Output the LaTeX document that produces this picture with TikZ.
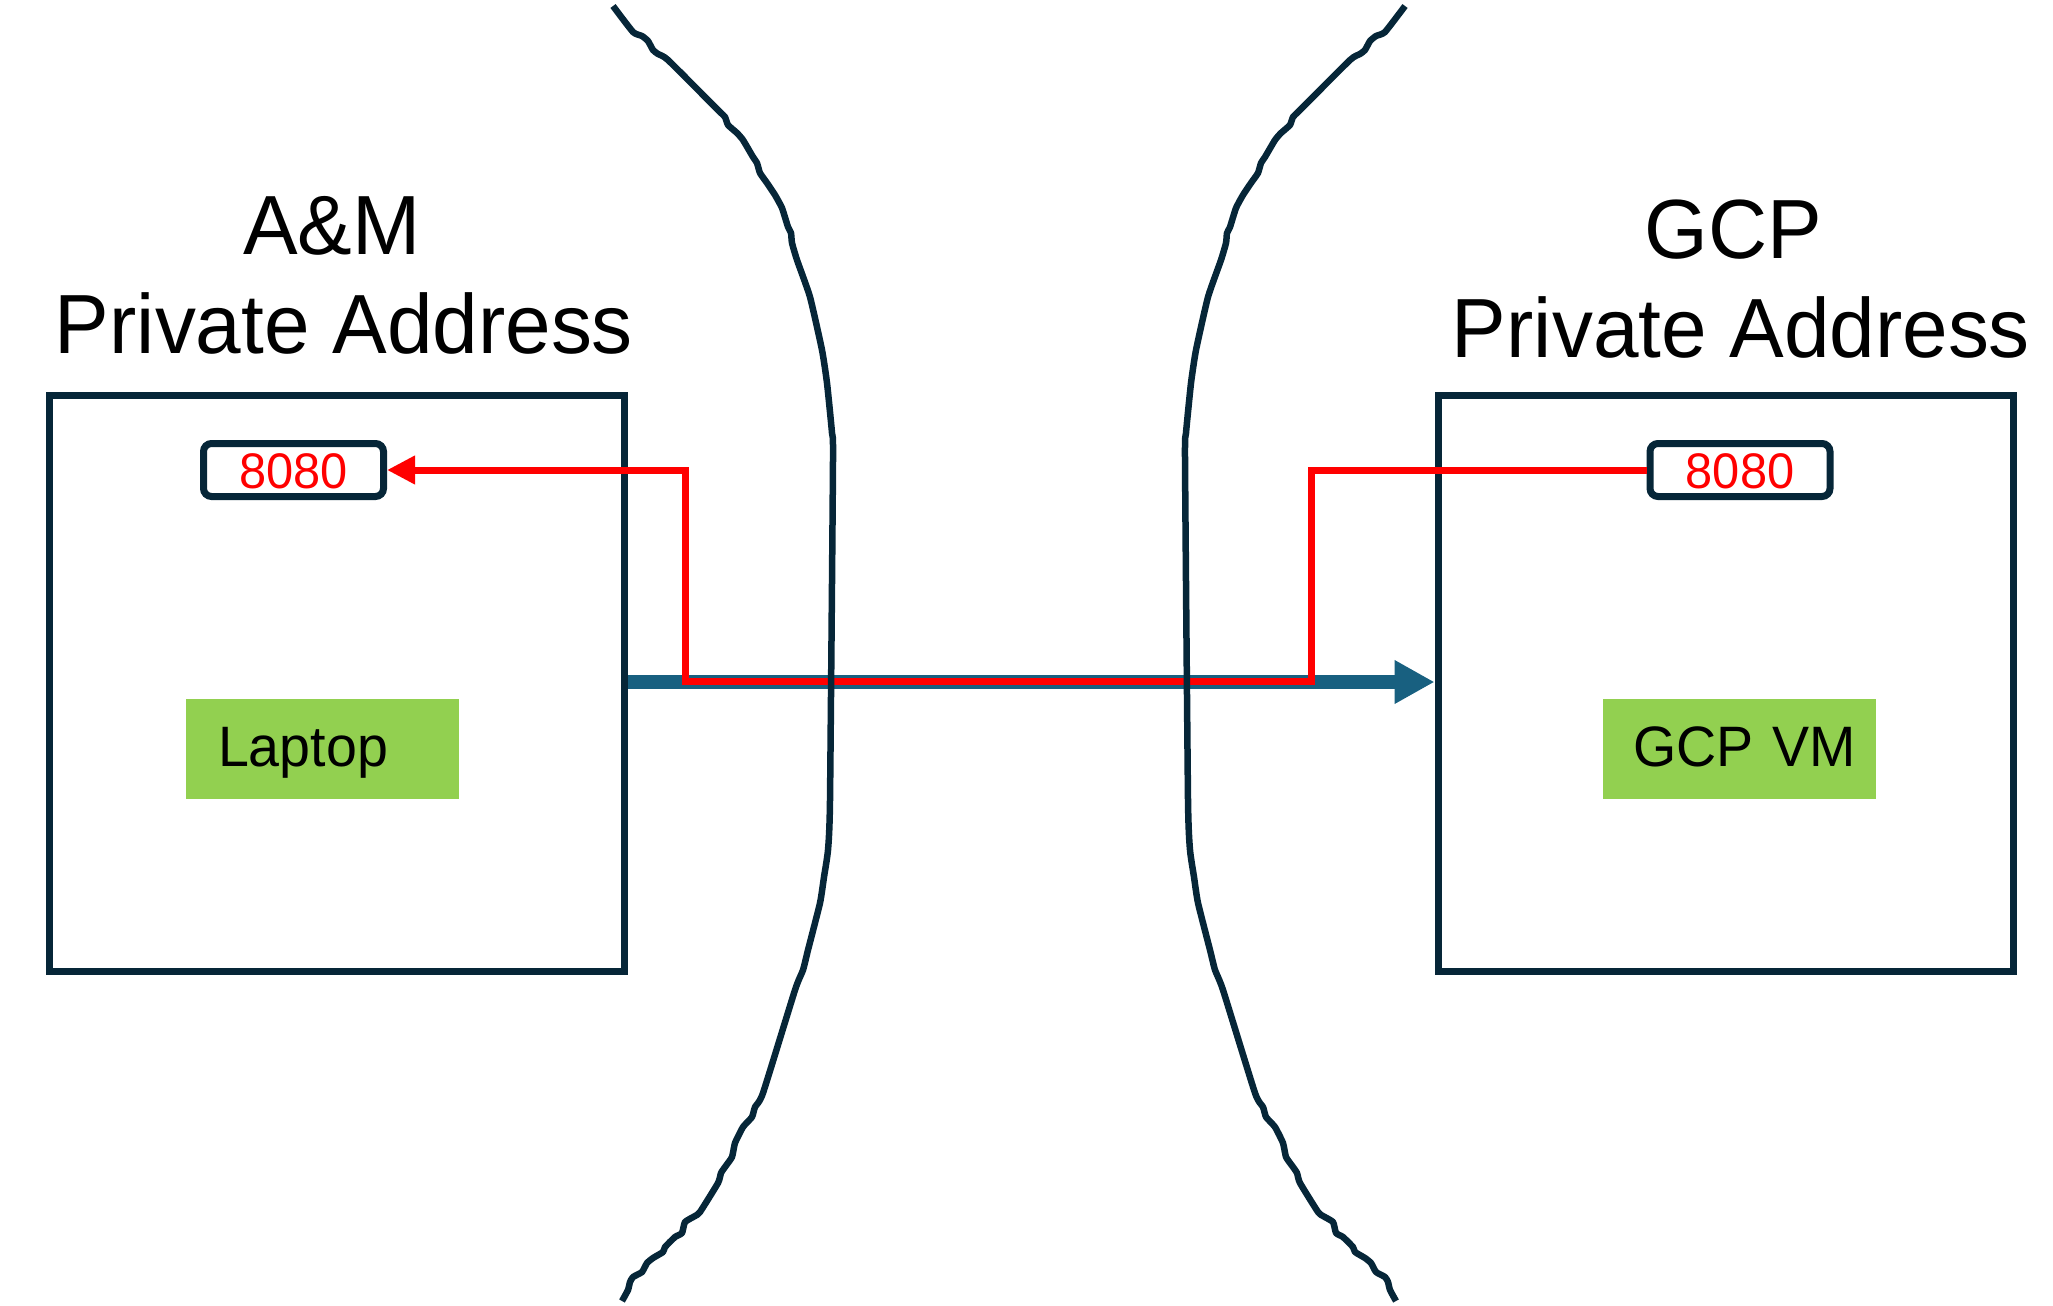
\documentclass[tikz,border=0pt]{standalone}
\usepackage{fontspec}
\setmainfont{Liberation Sans}[FakeStretch=0.975]
\usetikzlibrary{arrows.meta}
\definecolor{navy}{RGB}{6,38,56}
\definecolor{flowblue}{RGB}{24,96,128}
\definecolor{portred}{RGB}{255,0,0}
\definecolor{hostgreen}{RGB}{146,208,80}
\begin{document}
\begin{tikzpicture}[x=1pt,y=-1pt,
  zonebox/.style={draw=navy,line width=7pt,minimum width=575.5pt,minimum height=576pt,inner sep=0pt},
  portbox/.style={draw=navy,line width=7pt,rounded corners=8pt,minimum width=180pt,minimum height=53pt,inner sep=0pt,
     text=portred,font=\fontsize{50}{60}\selectfont,text height=36.5pt,text depth=0pt},
  hostbox/.style={fill=hostgreen,minimum width=273pt,minimum height=100pt,inner sep=0pt,
     text width=273pt,align=left,font=\fontsize{57}{68}\selectfont,text height=41pt,text depth=7pt},
  title/.style={anchor=base,inner sep=0pt,font=\fontsize{84}{100}\selectfont},
  curve/.style={draw=navy,line width=6.5pt,line join=round},
  flow/.style={draw=flowblue,line width=14pt,-{Triangle[length=40pt,width=41pt]}},
  reply/.style={draw=portred,line width=7pt,-{Triangle[length=28pt,width=27pt]}}
]
\useasboundingbox (0,0) rectangle (2053,1306);

% zones
\node[zonebox] (lbox) at (336.75,683) {};
\node[zonebox] (rbox) at (1725.75,683) {};

% titles
\node[title] (ltitle1) at (332,254) {A\&M};
\node[title] (ltitle2) at (344,353) {Private Address};
\node[title] (rtitle1) at (1733,258) {GCP};
\node[title] (rtitle2) at (1741,357) {Private Address};

% ports
\node[portbox] (lport) at (293.5,470) {8080};
\node[portbox] (rport) at (1740,470) {8080};

% hosts
\node[hostbox] (laptop) at (322.5,749) {\hspace*{32pt}Laptop};
\node[hostbox] (vm) at (1739,749) {\hspace*{31pt}GCP VM};

% blue flow
\draw[flow] (lbox.east |- 0,682) -- (rbox.west |- 0,682);

% red return path
\coordinate (ra) at (1311,681);
\coordinate (rb) at (685,681);
\draw[reply] (rport.west) -| (ra) -- (rb) |- (lport.east);

% boundary curves
\foreach \s/\sh in {1/0,-1/2018}{
\begin{scope}[shift={(\sh,0)},xscale=\s]
\draw[curve] plot[smooth,tension=0.3] coordinates {
(613,6) (633,32) (642,36) (648,41) (653,50) (658,54) (668,60) (718,110) (725,117)
(728,125) (737,133) (743,140) (753,157) (757,163) (760,173) (767,183) (775,195)
(782,208) (788,227) (791,233) (792,243) (797,260) (810,297) (822,350) (827,383)
(832,433) (833,460) (830,800) (828,850) (824,877) (820,903) (808,950) (803,970)
(795,990) (763,1093) (755,1107) (752,1117) (743,1127) (735,1143) (732,1157)
(725,1167) (721,1173) (718,1183) (700,1212) (695,1216) (685,1222) (682,1233)
(675,1237) (665,1247) (663,1252) (653,1258) (647,1263) (642,1272) (633,1277)
(630,1282) (628,1290) (622,1301)};
\end{scope}
}
\end{tikzpicture}
\end{document}
